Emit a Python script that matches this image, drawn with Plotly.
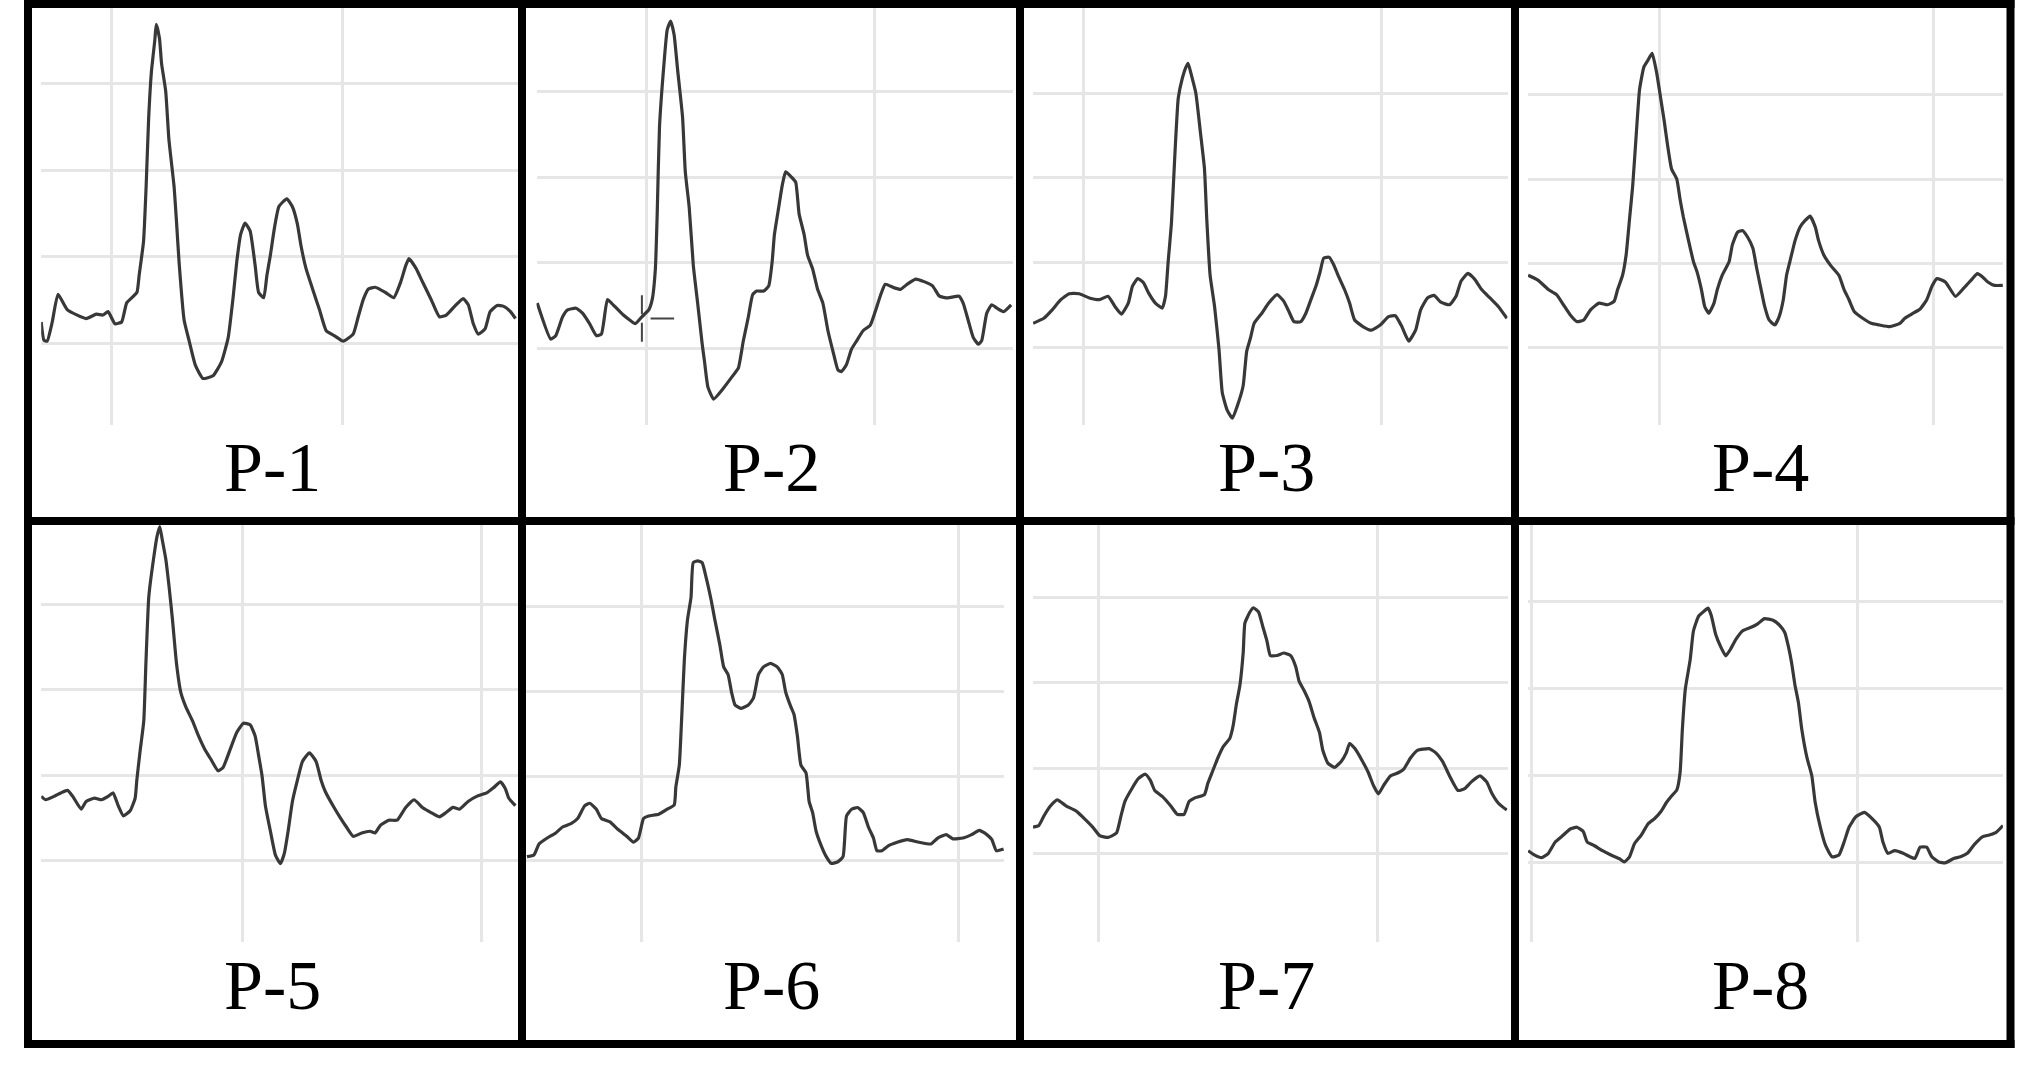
import plotly.graph_objects as go

W, H = 2036, 1082

LABELS = ["P-1", "P-2", "P-3", "P-4", "P-5", "P-6", "P-7", "P-8"]
GRID_T = [100, 200]
GRID_V = [0, 1, 2, 3]

P1_T = [69.5, 70.7, 72.1, 74.3, 76.8, 80.9, 89.0, 93.4, 96.3, 98.5,
        101.5, 104.4, 106.6, 111.0, 112.0, 113.9, 115.0, 116.1, 117.3, 118.8,
        119.4, 120.8, 121.7, 123.5, 124.9, 127.1, 128.2, 129.3, 131.5, 133.7,
        136.4, 139.6, 144.0, 147.7, 150.6, 152.8, 154.3, 156.0, 157.9, 160.1,
        162.3, 163.8, 166.0, 167.4, 168.9, 170.7, 172.6, 176.0, 178.4, 180.6,
        182.1, 184.3, 187.2, 190.2, 193.1, 196.8, 200.4, 204.8, 207.0, 209.2,
        211.4, 214.4, 218.8, 222.4, 225.4, 227.6, 229.0, 232.0, 234.9, 238.6,
        242.2, 245.2, 248.8, 252.5, 254.7, 256.9, 259.1, 262.0, 264.2, 267.2,
        270.1, 273.0, 275.2]
P1_V = [0.25, 0.04, 0.03, 0.25, 0.57, 0.39, 0.29, 0.34, 0.33, 0.37,
        0.23, 0.25, 0.47, 0.59, 0.79, 1.18, 1.80, 2.59, 3.13, 3.50,
        3.68, 3.52, 3.23, 2.91, 2.35, 1.82, 1.40, 0.94, 0.27, 0.03,
        -0.25, -0.40, -0.37, -0.21, 0.07, 0.55, 0.94, 1.26, 1.39, 1.30,
        0.90, 0.59, 0.53, 0.79, 1.02, 1.34, 1.58, 1.67, 1.58, 1.38,
        1.14, 0.87, 0.63, 0.39, 0.15, 0.09, 0.03, 0.11, 0.31, 0.51,
        0.63, 0.65, 0.59, 0.53, 0.71, 0.90, 0.98, 0.87, 0.71, 0.51,
        0.31, 0.33, 0.43, 0.52, 0.45, 0.23, 0.11, 0.17, 0.37, 0.44,
        0.43, 0.37, 0.29]

P2_T = [52.4, 58.3, 60.5, 63.5, 65.7, 69.4, 72.3, 75.3, 78.3, 80.5,
        83.1, 84.9, 87.1, 90.1, 93.0, 95.3, 98.2, 101.2, 102.7, 104.1,
        104.9, 105.9, 107.8, 109.3, 110.8, 112.3, 113.8, 116.0, 117.2, 118.9,
        120.7, 122.6, 124.6, 125.6, 127.1, 129.6, 133.7, 138.2, 140.4, 142.6,
        144.8, 146.7, 148.5, 151.5, 153.7, 155.2, 156.2, 158.1, 159.6, 161.1,
        163.6, 165.5, 167.0, 169.2, 170.7, 172.9, 175.1, 177.4, 179.6, 181.8,
        184.0, 185.5, 187.7, 189.9, 192.2, 195.1, 198.1, 200.3, 202.5, 204.7,
        208.4, 211.4, 214.3, 218.0, 221.7, 225.4, 228.4, 232.1, 237.0, 238.8,
        241.0, 243.2, 245.4, 246.9, 249.1, 251.3, 253.6, 256.5, 259.8]
P2_V = [0.53, 0.11, 0.15, 0.37, 0.45, 0.47, 0.41, 0.29, 0.15, 0.17,
        0.57, 0.53, 0.47, 0.39, 0.33, 0.29, 0.37, 0.45, 0.57, 0.93,
        1.57, 2.58, 3.30, 3.72, 3.82, 3.66, 3.26, 2.70, 2.06, 1.65,
        0.97, 0.53, 0.05, -0.15, -0.45, -0.59, -0.47, -0.31, -0.23, 0.09,
        0.37, 0.63, 0.67, 0.67, 0.73, 1.01, 1.33, 1.65, 1.90, 2.06,
        2.00, 1.94, 1.57, 1.33, 1.09, 0.93, 0.69, 0.53, 0.21, -0.03,
        -0.25, -0.27, -0.19, -0.01, 0.09, 0.21, 0.27, 0.43, 0.61, 0.75,
        0.71, 0.69, 0.75, 0.81, 0.78, 0.73, 0.61, 0.59, 0.61, 0.53,
        0.33, 0.13, 0.05, 0.09, 0.41, 0.51, 0.47, 0.43, 0.51]
# small cursor cross visible in panel P-2
P2_CURSOR_T = [98.2, 98.2, None, 98.2, 98.2, None, 102.0, 112.3]
P2_CURSOR_V = [0.62, 0.40, None, 0.30, 0.08, None, 0.35, 0.35]

P3_T = [83.0, 86.6, 89.4, 92.3, 95.1, 98.5, 101.9, 105.3, 108.2, 110.5,
        112.7, 115.0, 116.4, 118.2, 120.1, 121.8, 124.1, 126.4, 127.5, 128.4,
        129.5, 130.6, 131.8, 133.2, 134.3, 135.1, 136.3, 137.7, 139.2, 140.6,
        141.4, 142.5, 144.0, 145.5, 146.6, 148.2, 150.0, 151.6, 153.6, 154.8,
        156.1, 157.3, 159.9, 162.2, 165.0, 167.3, 169.0, 170.7, 173.0, 174.7,
        176.4, 178.1, 179.5, 180.7, 182.6, 184.1, 185.5, 187.7, 189.4, 191.1,
        194.0, 196.8, 199.7, 202.5, 204.8, 207.0, 209.3, 211.6, 213.3, 215.6,
        217.8, 220.1, 223.0, 225.2, 226.9, 229.2, 231.5, 233.8, 236.6, 239.4,
        242.3]
P3_V = [0.28, 0.34, 0.44, 0.56, 0.63, 0.63, 0.58, 0.56, 0.60, 0.48,
        0.39, 0.52, 0.72, 0.81, 0.76, 0.64, 0.52, 0.46, 0.60, 1.01,
        1.46, 2.23, 2.94, 3.18, 3.30, 3.35, 3.20, 3.00, 2.55, 2.11,
        1.50, 0.85, 0.48, -0.03, -0.54, -0.74, -0.84, -0.70, -0.46, -0.05,
        0.11, 0.28, 0.40, 0.52, 0.62, 0.54, 0.42, 0.30, 0.30, 0.40,
        0.56, 0.72, 0.89, 1.05, 1.06, 0.97, 0.85, 0.68, 0.52, 0.32,
        0.24, 0.20, 0.26, 0.36, 0.37, 0.24, 0.07, 0.20, 0.44, 0.58,
        0.61, 0.53, 0.50, 0.60, 0.78, 0.87, 0.80, 0.68, 0.58, 0.48,
        0.34]

P4_T = [51.9, 55.6, 59.3, 62.3, 64.8, 67.3, 69.8, 72.2, 74.7, 77.8,
        80.9, 83.3, 84.6, 86.4, 87.7, 88.9, 90.1, 91.4, 92.6, 94.2,
        95.7, 97.2, 98.8, 100.4, 101.6, 102.8, 104.3, 106.2, 107.4, 108.6,
        110.5, 112.3, 113.6, 115.2, 116.4, 117.9, 119.8, 121.0, 122.8, 125.3,
        126.5, 128.4, 130.2, 132.1, 134.0, 135.4, 137.0, 138.3, 139.9, 142.0,
        143.6, 145.1, 146.3, 147.5, 149.4, 151.2, 153.1, 154.9, 156.8, 158.0,
        159.9, 162.3, 165.4, 167.3, 169.1, 171.0, 174.1, 177.2, 180.2, 184.0,
        187.7, 189.5, 192.0, 195.1, 197.5, 199.4, 201.2, 204.3, 208.0, 211.1,
        214.2, 216.0, 217.9, 219.8, 222.2, 225.3]
P4_V = [0.86, 0.80, 0.69, 0.63, 0.51, 0.39, 0.31, 0.33, 0.45, 0.53,
        0.51, 0.55, 0.69, 0.86, 1.10, 1.51, 1.92, 2.53, 3.06, 3.33,
        3.41, 3.49, 3.27, 2.94, 2.69, 2.41, 2.12, 2.00, 1.76, 1.55,
        1.27, 1.02, 0.90, 0.69, 0.49, 0.41, 0.53, 0.69, 0.86, 1.02,
        1.22, 1.37, 1.39, 1.31, 1.18, 0.94, 0.69, 0.49, 0.33, 0.27,
        0.37, 0.57, 0.86, 1.02, 1.27, 1.43, 1.51, 1.56, 1.43, 1.27,
        1.10, 0.98, 0.86, 0.69, 0.57, 0.43, 0.35, 0.29, 0.27, 0.25,
        0.29, 0.35, 0.40, 0.46, 0.57, 0.73, 0.82, 0.78, 0.61, 0.71,
        0.82, 0.88, 0.84, 0.78, 0.74, 0.74]

P5_T = [15.7, 17.5, 21.1, 23.9, 26.7, 28.9, 32.4, 34.5, 38.0, 40.9,
        43.7, 45.8, 47.9, 50.1, 52.9, 55.0, 55.7, 57.1, 58.6, 59.5,
        60.7, 62.8, 64.2, 65.3, 66.3, 67.8, 69.2, 70.6, 72.3, 74.1,
        76.2, 79.1, 81.2, 84.0, 86.8, 89.7, 91.8, 94.6, 97.5, 100.3,
        103.1, 105.2, 106.6, 108.1, 109.5, 111.6, 113.7, 115.8, 117.5, 119.0,
        120.8, 122.9, 125.0, 127.9, 130.7, 132.8, 134.5, 137.8, 140.6, 143.4,
        146.3, 149.8, 153.3, 155.4, 157.6, 161.1, 164.6, 168.2, 171.7, 175.2,
        178.8, 182.3, 185.1, 188.0, 190.8, 194.3, 197.9, 202.1, 204.9, 207.8,
        209.9, 211.3, 214.1]
P5_V = [0.75, 0.71, 0.75, 0.79, 0.82, 0.75, 0.60, 0.69, 0.73, 0.71,
        0.75, 0.79, 0.64, 0.52, 0.58, 0.73, 0.94, 1.29, 1.63, 2.31,
        3.09, 3.56, 3.81, 3.92, 3.77, 3.54, 3.21, 2.83, 2.31, 1.97,
        1.80, 1.63, 1.48, 1.31, 1.18, 1.05, 1.09, 1.29, 1.50, 1.61,
        1.59, 1.46, 1.24, 0.99, 0.64, 0.34, 0.06, -0.04, 0.09, 0.34,
        0.69, 0.94, 1.16, 1.26, 1.16, 0.94, 0.81, 0.64, 0.51, 0.39,
        0.28, 0.32, 0.34, 0.32, 0.41, 0.47, 0.47, 0.62, 0.71, 0.62,
        0.56, 0.51, 0.56, 0.62, 0.60, 0.69, 0.75, 0.79, 0.85, 0.92,
        0.84, 0.73, 0.64]

P6_T = [63.9, 66.1, 67.7, 70.3, 73.0, 75.1, 77.8, 79.9, 82.1, 83.7,
        85.8, 87.4, 90.1, 92.7, 95.4, 97.5, 99.1, 100.7, 102.3, 105.5,
        108.2, 110.4, 110.9, 112.0, 112.8, 113.6, 114.6, 115.7, 116.4, 117.8,
        119.2, 120.5, 122.1, 123.2, 124.8, 126.0, 127.4, 128.5, 129.6, 131.4,
        133.8, 135.4, 137.0, 138.6, 140.8, 142.9, 144.5, 145.6, 147.2, 148.2,
        149.3, 150.4, 152.0, 153.0, 154.1, 155.2, 156.8, 158.4, 160.0, 162.1,
        163.7, 164.8, 166.4, 168.3, 170.1, 171.7, 173.3, 174.4, 176.0, 178.1,
        180.8, 184.0, 187.7, 191.5, 193.6, 196.3, 198.4, 201.6, 204.3, 206.7,
        209.1, 210.7, 212.1, 214.4]
P6_V = [0.05, 0.07, 0.20, 0.27, 0.33, 0.40, 0.44, 0.50, 0.65, 0.68,
        0.61, 0.50, 0.46, 0.37, 0.29, 0.22, 0.27, 0.50, 0.53, 0.55,
        0.61, 0.66, 0.87, 1.13, 1.73, 2.38, 2.85, 3.11, 3.52, 3.54,
        3.52, 3.34, 3.07, 2.85, 2.55, 2.29, 2.20, 1.99, 1.84, 1.80,
        1.84, 1.92, 2.20, 2.29, 2.33, 2.29, 2.20, 1.99, 1.82, 1.73,
        1.47, 1.13, 1.04, 0.70, 0.57, 0.35, 0.18, 0.05, -0.03, -0.01,
        0.05, 0.53, 0.61, 0.63, 0.57, 0.40, 0.27, 0.12, 0.12, 0.18,
        0.22, 0.25, 0.22, 0.20, 0.27, 0.31, 0.26, 0.27, 0.31, 0.36,
        0.31, 0.25, 0.12, 0.14]

P7_T = [76.5, 78.6, 80.4, 82.8, 85.2, 88.3, 91.9, 94.9, 97.9, 100.4,
        103.4, 106.4, 108.0, 109.4, 111.9, 114.3, 116.7, 118.5, 120.1, 122.8,
        125.8, 128.2, 130.6, 132.4, 134.3, 137.9, 139.1, 140.9, 142.7, 144.6,
        147.0, 148.2, 149.4, 150.6, 151.8, 152.4, 154.2, 155.4, 157.3, 158.8,
        160.3, 161.5, 163.9, 166.3, 168.8, 170.6, 171.8, 173.6, 175.4, 177.2,
        179.1, 180.3, 182.1, 184.5, 186.9, 188.7, 189.9, 191.8, 194.2, 196.6,
        198.4, 200.2, 202.1, 204.5, 207.5, 209.3, 211.7, 214.2, 218.4, 220.8,
        223.2, 225.7, 228.7, 231.1, 233.5, 236.6, 239.0, 240.8, 243.2, 246.2]
P7_V = [0.31, 0.33, 0.44, 0.56, 0.63, 0.56, 0.50, 0.41, 0.31, 0.21,
        0.19, 0.24, 0.44, 0.61, 0.76, 0.88, 0.93, 0.86, 0.74, 0.67,
        0.56, 0.46, 0.46, 0.61, 0.65, 0.69, 0.82, 0.97, 1.12, 1.25,
        1.35, 1.50, 1.76, 1.97, 2.36, 2.70, 2.83, 2.88, 2.83, 2.66,
        2.49, 2.32, 2.32, 2.35, 2.32, 2.19, 2.02, 1.91, 1.78, 1.59,
        1.42, 1.21, 1.06, 1.01, 1.08, 1.18, 1.29, 1.23, 1.10, 0.95,
        0.80, 0.70, 0.80, 0.91, 0.95, 0.99, 1.12, 1.21, 1.23, 1.18,
        1.08, 0.91, 0.74, 0.76, 0.84, 0.91, 0.84, 0.71, 0.59, 0.51]

P8_T = [99.0, 101.0, 103.1, 105.2, 107.3, 109.8, 111.9, 114.0, 115.9, 117.1,
        119.2, 121.8, 124.4, 126.9, 128.5, 130.1, 131.6, 133.7, 135.8, 137.8,
        139.9, 141.5, 143.0, 144.6, 145.6, 146.3, 147.2, 148.7, 149.7, 151.3,
        152.8, 154.2, 155.2, 156.5, 158.0, 159.6, 161.1, 162.7, 164.8, 167.4,
        169.4, 171.5, 174.1, 176.2, 177.7, 178.8, 179.8, 180.8, 181.9, 182.9,
        184.5, 186.0, 187.0, 188.6, 190.2, 192.2, 194.3, 195.9, 197.4, 199.5,
        202.1, 204.7, 206.7, 207.8, 209.3, 211.4, 214.0, 216.1, 217.6, 219.2,
        221.2, 222.8, 224.9, 226.9, 229.5, 231.6, 233.7, 235.8, 238.3, 240.4,
        242.5, 244.6]
P8_V = [0.13, 0.08, 0.05, 0.10, 0.23, 0.31, 0.38, 0.40, 0.35, 0.23,
        0.19, 0.13, 0.08, 0.04, 0.00, 0.06, 0.21, 0.31, 0.44, 0.50,
        0.59, 0.69, 0.76, 0.83, 1.03, 1.53, 1.99, 2.33, 2.66, 2.83,
        2.88, 2.92, 2.83, 2.62, 2.48, 2.37, 2.45, 2.56, 2.66, 2.70,
        2.74, 2.80, 2.78, 2.72, 2.64, 2.48, 2.29, 2.04, 1.83, 1.53,
        1.20, 0.99, 0.69, 0.40, 0.19, 0.06, 0.08, 0.23, 0.40, 0.52,
        0.57, 0.49, 0.40, 0.23, 0.10, 0.13, 0.10, 0.06, 0.04, 0.17,
        0.17, 0.06, 0.00, -0.01, 0.04, 0.06, 0.10, 0.20, 0.29, 0.31,
        0.34, 0.42]

SERIES = [(P1_T, P1_V), (P2_T, P2_V), (P3_T, P3_V), (P4_T, P4_V),
          (P5_T, P5_V), (P6_T, P6_V), (P7_T, P7_V), (P8_T, P8_V)]

# ---- layout geometry (pixels in the 2036x1082 canvas) ----
# plot box (left, right, top, bottom)
BOX = [(41.2, 522, 4, 425.3), (536.5, 1013, 4, 425.3),
       (1033.0, 1507.5, 4, 425.3), (1528.0, 2002.9, 4, 425.3),
       (41.2, 522, 521, 942.3), (522, 1004.3, 521, 942.3),
       (1033.0, 1507.5, 521, 942.3), (1528.0, 2002.9, 521, 942.3)]
# pixel x of the two vertical grid lines (t=100, t=200)
GX = [(111.5, 342.1), (646.0, 874.5), (1083.7, 1381.1), (1659.8, 1933.6),
      (242.7, 481.7), (641.3, 958.0), (1098.6, 1377.8), (1531.4, 1857.5)]
# pixel y of the lowest (v=0) and highest (v=3) horizontal grid lines
GY = [(343.7, 83.3), (348.5, 91.3), (347.1, 93.0), (347.8, 94.7),
      (860.2, 604.8), (860.9, 606.7), (853.6, 597.5), (862.0, 601.2)]
LABEL_X = [272, 771, 1266, 1760, 272, 771, 1266, 1760]
LABEL_Y = [467.5, 467.5, 467.5, 467.5, 985.3, 985.3, 985.3, 985.3]
FRAME_X = [28, 522, 1020, 1515, 2010.5]
FRAME_Y = [4, 521, 1044]

LINE_COLOR = "#383838"
GRID_COLOR = "#e6e6e6"

fig = go.Figure()
layout = {}
for i, (t, v) in enumerate(SERIES):
    n = i + 1
    xa = "x" if n == 1 else f"x{n}"
    ya = "y" if n == 1 else f"y{n}"
    fig.add_trace(go.Scatter(x=t, y=v, mode="lines", xaxis=xa, yaxis=ya,
                             line=dict(color=LINE_COLOR, width=3.2,
                                       shape="spline", smoothing=0.45),
                             hoverinfo="skip", showlegend=False))
    if n == 2:
        fig.add_trace(go.Scatter(x=P2_CURSOR_T, y=P2_CURSOR_V, mode="lines",
                                 xaxis=xa, yaxis=ya,
                                 line=dict(color="#444444", width=2),
                                 hoverinfo="skip", showlegend=False))
    x0, x1, y0, y1 = BOX[i]
    g100, g200 = GX[i]
    g0, g3 = GY[i]
    sx = (GRID_T[1] - GRID_T[0]) / (g200 - g100)
    xr = [GRID_T[0] + (x0 - g100) * sx, GRID_T[0] + (x1 - g100) * sx]
    sy = (GRID_V[-1] - GRID_V[0]) / (g0 - g3)
    yr = [(g0 - y1) * sy, (g0 - y0) * sy]
    common = dict(showticklabels=False, showgrid=True, gridcolor=GRID_COLOR,
                  gridwidth=3, zeroline=False, showline=False, ticks="",
                  fixedrange=True)
    layout["xaxis" if n == 1 else f"xaxis{n}"] = dict(
        domain=[x0 / W, x1 / W], range=xr, tickvals=GRID_T, anchor=ya, **common)
    layout["yaxis" if n == 1 else f"yaxis{n}"] = dict(
        domain=[1 - y1 / H, 1 - y0 / H], range=yr, tickvals=GRID_V, anchor=xa, **common)

shapes = []
for fx in FRAME_X:
    shapes.append(dict(type="line", xref="paper", yref="paper",
                       x0=fx / W, x1=fx / W, y0=1 - 0 / H, y1=1 - 1048 / H,
                       line=dict(color="black", width=8), layer="above"))
for fy in FRAME_Y:
    shapes.append(dict(type="line", xref="paper", yref="paper",
                       x0=24 / W, x1=2014.5 / W, y0=1 - fy / H, y1=1 - fy / H,
                       line=dict(color="black", width=8), layer="above"))

annotations = []
for lab, lx, ly in zip(LABELS, LABEL_X, LABEL_Y):
    annotations.append(dict(text=lab, xref="paper", yref="paper",
                            x=lx / W, y=1 - ly / H, xanchor="center",
                            yanchor="middle", showarrow=False,
                            font=dict(family="Liberation Serif, Times New Roman, serif",
                                      size=70, color="black")))

fig.update_layout(width=W, height=H, margin=dict(l=0, r=0, t=0, b=0),
                  paper_bgcolor="white", plot_bgcolor="white",
                  shapes=shapes, annotations=annotations, showlegend=False,
                  **layout)

fig.write_html("out.html", config={"displayModeBar": False})
